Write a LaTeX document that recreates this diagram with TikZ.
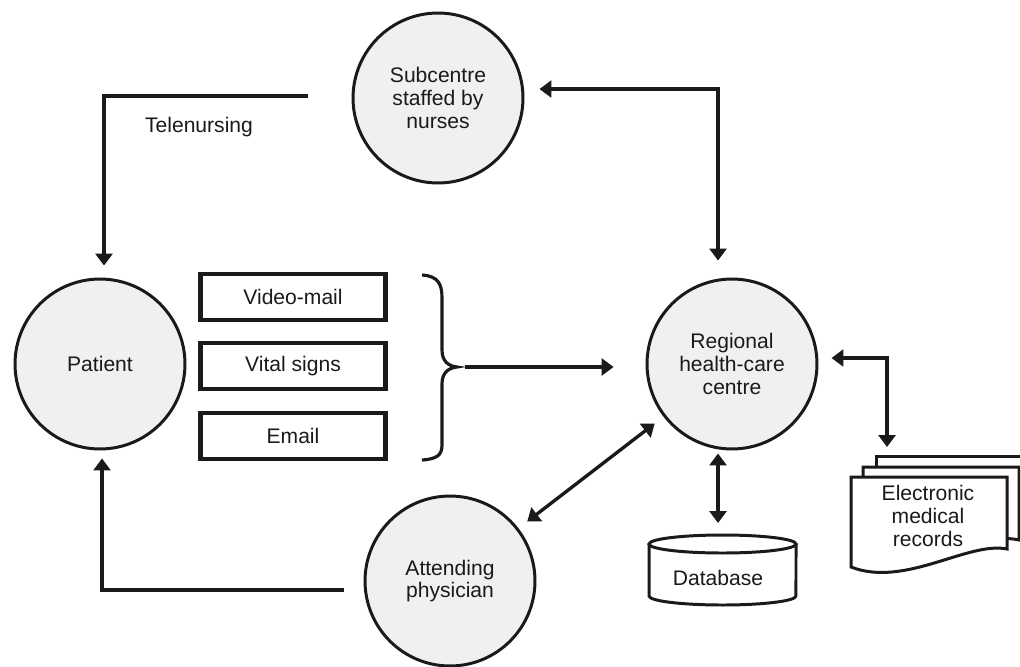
\documentclass[tikz,border=0pt]{standalone}
\usepackage{fontspec}
\setmainfont{Liberation Sans}
\usetikzlibrary{arrows.meta,calc}
\definecolor{ink}{HTML}{1A1A1A}
\definecolor{circfill}{HTML}{F0F0F0}
\begin{document}
\begin{tikzpicture}[x=0.02cm,y=-0.02cm,
  every node/.style={font=\fontsize{12}{13}\selectfont, text=ink, align=center},
  hub/.style={circle, draw=ink, fill=circfill, line width=1.7pt, minimum size=3.4cm, inner sep=0pt},
  chan/.style={rectangle, draw=ink, line width=2.8pt, minimum width=3.7cm, minimum height=0.92cm, inner sep=0pt},
  tip/.tip={Triangle[length=0.24cm,width=0.34cm]},
  conn/.style={draw=ink, line width=2.2pt, -tip},
  dconn/.style={draw=ink, line width=2.1pt, tip-tip},
  solidline/.style={draw=ink, line width=1.7pt, fill=white}]
\useasboundingbox (0,0) rectangle (1020,666);

% hubs
\node[hub] (sub) at (438,98) {Subcentre\\staffed by\\nurses};
\node[hub] (pat) at (100,364) {Patient};
\node[hub] (reg) at (732,364) {Regional\\health-care\\centre};
\node[hub] (phys) at (450,581) {Attending\\physician};

% channels
\node[chan] (vm) at (293,297) {Video-mail};
\node[chan] (vs) at (293,366) {Vital signs};
\node[chan] (em) at (293,436) {Email};

% brace
\coordinate (bt) at (457,367);
\draw[ink, line width=1.8pt] (422,275) .. controls (438,276) and (442,284) .. (442,298) -- (442,350)
  .. controls (442,361) and (448,366) .. (bt)
  .. controls (448,368) and (442,373) .. (442,384) -- (442,445)
  .. controls (442,455) and (437,459) .. (422,460);
\draw[conn] ($(bt)+(8,0)$) -- ($(reg.west)+(-32,3)$);

% telenursing
\coordinate (tn) at (308,96);
\draw[conn, line width=2.6pt] (tn) -| ($(pat.north)+(4,-12)$);
\node (tnl) at (199,127) {Telenursing};

% subcentre <-> regional
\draw[dconn] ($(sub.east)+(15,-9)$) -| ($(reg.north)+(-14,-17)$);

% physician -> patient
\draw[conn, line width=2.5pt] ($(phys.west)+(-20,9)$) -| ($(pat.south)+(2,8)$);

% physician <-> regional
\draw[dconn, line width=1.9pt, shorten <=0.22cm, shorten >=0.22cm] (phys) -- (reg);

% database
\draw[solidline] (649,544) -- (649,596) arc[start angle=180, end angle=360, x radius=1.47cm, y radius=0.18cm] -- (796,544);
\draw[solidline] (722.5,544) ellipse [x radius=1.47cm, y radius=0.18cm];
\node (db) at (718,578) {Database};
\coordinate (dbtop) at (718,535);
\draw[dconn] ($(reg.south)+(-14,3)$) -- ($(dbtop)+(0,-12)$);

% electronic medical records
\draw[solidline] (876,456) -- (1040,456) -- (1040,530) -- (876,530) -- cycle;
\draw[solidline] (863,467) -- (1019,467) -- (1019,540) .. controls (975,530) and (912,574) .. (863,559) -- cycle;
\draw[solidline] (851,477) -- (1007,477) -- (1007,549) .. controls (968,541) and (905,588) .. (851,567) -- cycle;
\node (emr) at (928,516) {Electronic\\medical\\records};
\coordinate (docs) at (887,456);
\draw[dconn] ($(reg.east)+(13,-6)$) -| ($(docs)+(0,-9)$);
\end{tikzpicture}
\end{document}
